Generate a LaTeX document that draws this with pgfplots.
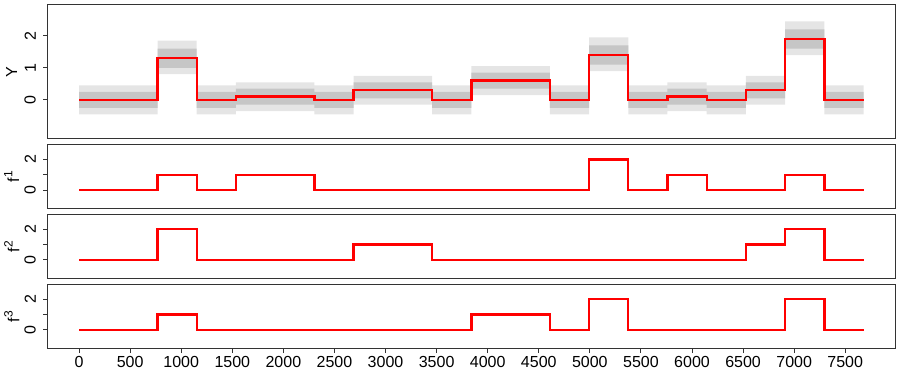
\documentclass[border=0pt]{standalone}
\usepackage{fontspec}
\setmainfont{Liberation Sans}
\usepackage{pgfplots}
\usepackage{pgfplotstable}
\pgfplotsset{compat=1.18}
\usepgfplotslibrary{fillbetween}

% fitted step level and the read-off spread of the noisy points (inner dense / outer sparse)
\pgfplotstableread{
x     y    ilo    ihi   olo    ohi
0     0    -0.25  0.25  -0.45  0.45
768   1.3  1.0    1.6   0.8    1.85
1152  0    -0.25  0.25  -0.45  0.45
1536  0.1  -0.15  0.35  -0.35  0.55
2304  0    -0.25  0.25  -0.45  0.45
2688  0.3  0.05   0.55  -0.15  0.75
3456  0    -0.25  0.25  -0.45  0.45
3840  0.6  0.35   0.85  0.15   1.05
4608  0    -0.25  0.25  -0.45  0.45
4992  1.4  1.1    1.7   0.9    1.95
5376  0    -0.25  0.25  -0.45  0.45
5760  0.1  -0.15  0.35  -0.35  0.55
6144  0    -0.25  0.25  -0.45  0.45
6528  0.3  0.05   0.55  -0.15  0.75
6912  1.9  1.6    2.2   1.4    2.45
7296  0    -0.25  0.25  -0.45  0.45
7680  0    -0.25  0.25  -0.45  0.45
}\ydata

\pgfplotstableread{
x     f1 f2 f3
0     0  0  0
768   1  2  1
1152  0  0  0
1536  1  0  0
2304  0  0  0
2688  0  1  0
3456  0  0  0
3840  0  0  1
4608  0  0  0
4992  2  0  2
5376  0  0  0
5760  1  0  0
6144  0  0  0
6528  0  1  0
6912  1  2  2
7296  0  0  0
7680  0  0  0
}\fdata

\definecolor{boxcol}{HTML}{333333}
\pgfplotsset{
  panel/.style={
    scale only axis, width=423.65pt, height=32.25pt,
    xmin=-307, xmax=7987, ymin=-1.22, ymax=2.97,
    axis line style={boxcol, line width=0.5pt},
    tick style={boxcol, line width=0.5pt},
    tick align=outside, major tick length=2.2pt,
    tick pos=left, xtick=\empty, ytick={0,1,2},
    font=\fontsize{8}{9}\selectfont,
    /pgf/number format/assume math mode=true,
    yticklabel style={anchor=south, inner sep=0pt, xshift=-3.5pt, rotate=90},
    ylabel style={at={(axis description cs:-0.0425,0.5)}, anchor=center, inner sep=0pt},
  },
  step/.style={red, line width=1.2pt, const plot},
}

\begin{document}
\begin{tikzpicture}

\begin{axis}[panel, at={(23.85pt,114.5pt)}, anchor=south west, height=67.15pt,
  ylabel={Y}]
  \addplot[draw=none, name path=olo, const plot] table[x=x, y=olo] {\ydata};
  \addplot[draw=none, name path=ohi, const plot] table[x=x, y=ohi] {\ydata};
  \addplot[draw=none, name path=ilo, const plot] table[x=x, y=ilo] {\ydata};
  \addplot[draw=none, name path=ihi, const plot] table[x=x, y=ihi] {\ydata};
  \addplot[gray!20] fill between[of=ohi and olo];
  \addplot[gray!45] fill between[of=ihi and ilo];
  \addplot[step] table[x=x, y=y] {\ydata};
\end{axis}

\begin{axis}[panel, at={(23.85pt,79.5pt)}, anchor=south west,
  yticklabels={0,,2}, ylabel={f\raisebox{0.8ex}{\fontsize{6}{6}\selectfont 1}}]
  \addplot[step] table[x=x, y=f1] {\fdata};
\end{axis}

\begin{axis}[panel, at={(23.85pt,44.65pt)}, anchor=south west,
  yticklabels={0,,2}, ylabel={f\raisebox{0.8ex}{\fontsize{6}{6}\selectfont 2}}]
  \addplot[step] table[x=x, y=f2] {\fdata};
\end{axis}

\begin{axis}[panel, at={(23.85pt,9.65pt)}, anchor=south west,
  yticklabels={0,,2}, ylabel={f\raisebox{0.8ex}{\fontsize{6}{6}\selectfont 3}},
  xtick={0,500,...,7500},
  xticklabel style={/pgf/number format/1000 sep={}, anchor=north, inner sep=0pt, yshift=-1.2pt}]
  \addplot[step] table[x=x, y=f3] {\fdata};
\end{axis}

\pgfresetboundingbox
\useasboundingbox (0,0) rectangle (450pt,184pt);
\end{tikzpicture}
\end{document}
